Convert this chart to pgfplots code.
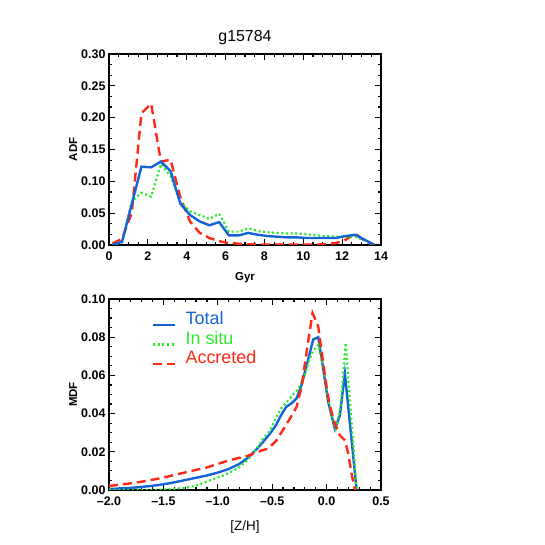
\documentclass[border=0pt]{standalone}
\usepackage{pgfplots}
\pgfplotsset{compat=1.18}
\usepackage{fontspec}
\setmainfont{Liberation Sans}
\definecolor{cblue}{RGB}{20,100,215}
\definecolor{cgreen}{RGB}{40,235,40}
\definecolor{cred}{RGB}{255,40,20}
\pgfplotsset{
  idl/.style={
    scale only axis, width=272bp, height=191bp, anchor=south west,
    axis line style={line width=1.8bp, black},
    tick style={line width=1.2bp, black},
    major tick length=6bp, minor tick length=3bp,
    tick align=inside,
    /pgf/number format/assume math mode=true,
    ticklabel style={font=\fontsize{12.5}{12.5}\selectfont\bfseries},
    label style={font=\fontsize{11.5}{11.5}\selectfont\bfseries},
  },
  tot/.style={cblue, line width=2.4bp},
  ins/.style={cgreen, line width=2.2bp, dash pattern=on 2bp off 2.6bp},
  acc/.style={cred, line width=2.4bp, dash pattern=on 9bp off 5bp},
}
\begin{document}
\begin{tikzpicture}
\path[use as bounding box] (0,0) rectangle (545bp,545bp);
\begin{axis}[idl, at={(109bp,300bp)},
  xmin=0, xmax=14, ymin=0, ymax=0.3,
  xtick={0,2,4,6,8,10,12,14}, minor x tick num=3,
  ytick={0,0.05,0.1,0.15,0.2,0.25,0.3}, minor y tick num=2,
  yticklabel style={/pgf/number format/.cd, fixed, fixed zerofill, precision=2},
  xticklabel style={yshift=-3bp},
  title={g15784},
  title style={font=\fontsize{16}{16}\selectfont, at={(0.5,1)}, anchor=base, yshift=7bp},
  xlabel={Gyr}, ylabel={ADF},
  xlabel style={at={(axis description cs:0.5,-0.173)}, anchor=center},
  ylabel style={at={(axis description cs:-0.132,0.5)}, anchor=center},
]
\addplot[acc] coordinates {
(0.17,0.002) (0.67,0.010) (1.17,0.050) (1.67,0.207) (2.17,0.222) (2.67,0.131)
(3.17,0.134) (3.67,0.075) (4.17,0.037) (4.67,0.019) (5.17,0.011) (5.67,0.006)
(6.17,0.003) (6.67,0.002) (7.17,0.001) (7.67,0.001) (8.17,0.0005) (8.67,0.0005)
(9.17,0.0005) (9.67,0.0005) (10.17,0.0005) (10.67,0.0008) (11.17,0.001) (11.67,0.003)
(12.17,0.008) (12.67,0.018) (13.17,0.006) (13.67,0.000)};
\addplot[ins] coordinates {
(0.17,0.000) (0.67,0.004) (1.17,0.068) (1.67,0.082) (2.17,0.076) (2.67,0.127)
(3.17,0.108) (3.67,0.068) (4.17,0.053) (4.67,0.047) (5.17,0.041) (5.67,0.049)
(6.17,0.021) (6.67,0.021) (7.17,0.026) (7.67,0.022) (8.17,0.020) (8.67,0.019)
(9.17,0.018) (9.67,0.018) (10.17,0.017) (10.67,0.015) (11.17,0.014) (11.67,0.013)
(12.17,0.012) (12.67,0.013) (13.17,0.007) (13.67,0.000)};
\addplot[tot] coordinates {
(0.17,0.000) (0.67,0.005) (1.17,0.064) (1.67,0.123) (2.17,0.122) (2.67,0.131)
(3.17,0.116) (3.67,0.065) (4.17,0.047) (4.67,0.037) (5.17,0.031) (5.67,0.036)
(6.17,0.015) (6.67,0.015) (7.17,0.019) (7.67,0.016) (8.17,0.014) (8.67,0.013)
(9.17,0.012) (9.67,0.012) (10.17,0.011) (10.67,0.011) (11.17,0.011) (11.67,0.011)
(12.17,0.014) (12.67,0.016) (13.17,0.008) (13.67,0.000)};
\end{axis}
\begin{axis}[idl, at={(109bp,55bp)},
  xmin=-2, xmax=0.5, ymin=0, ymax=0.1,
  xtick={-2,-1.5,-1,-0.5,0,0.5}, minor x tick num=4,
  xticklabels={\textendash2.0,\textendash1.5,\textendash1.0,\textendash0.5,0.0,0.5},
  ytick={0,0.02,0.04,0.06,0.08,0.1}, minor y tick num=3,
  yticklabel style={/pgf/number format/.cd, fixed, fixed zerofill, precision=2},
  xticklabel style={yshift=-3bp},
  xlabel={[Z/H]}, ylabel={MDF},
  xlabel style={at={(axis description cs:0.5,-0.194)}, anchor=center, font=\fontsize{13.5}{13.5}\selectfont},
  ylabel style={at={(axis description cs:-0.132,0.5)}, anchor=center},
  legend style={draw=none, fill=none, at={(axis description cs:0.157,0.934)}, anchor=north west,
    inner sep=0pt, font=\fontsize{18}{18}\selectfont,
    nodes={inner sep=0pt, text height=13bp, text depth=6.5bp},
    /tikz/every odd column/.append style={column sep=9bp}},
  legend cell align=left,
  legend image code/.code={\draw[#1] (0bp,-3.5bp) -- (22.3bp,-3.5bp);},
]
\addplot[tot] coordinates {
(-2.0,0.0005) (-1.9,0.0008) (-1.8,0.0011) (-1.7,0.0016) (-1.6,0.0022) (-1.5,0.003)
(-1.4,0.004) (-1.3,0.0052) (-1.2,0.0064) (-1.1,0.0076) (-1.0,0.0091) (-0.9,0.011)
(-0.8,0.0137) (-0.72,0.017) (-0.65,0.021) (-0.586,0.025) (-0.52,0.0295) (-0.464,0.034)
(-0.42,0.039) (-0.372,0.0435) (-0.32,0.0455) (-0.276,0.048) (-0.23,0.055) (-0.18,0.066)
(-0.123,0.0788) (-0.077,0.080) (-0.03,0.063) (0.015,0.046) (0.076,0.032) (0.122,0.039)
(0.168,0.061) (0.276,0.0)};
\addlegendentry{\textcolor{cblue}{Total}}
\addplot[ins] coordinates {
(-2.0,0.0) (-1.8,0.0) (-1.6,0.0) (-1.5,0.0002) (-1.4,0.0006) (-1.3,0.0012) (-1.2,0.0022)
(-1.1,0.0045) (-1.0,0.0065) (-0.9,0.0088) (-0.8,0.012) (-0.72,0.016) (-0.65,0.021)
(-0.586,0.0267) (-0.52,0.031) (-0.464,0.038) (-0.414,0.043) (-0.353,0.047) (-0.26,0.053)
(-0.2,0.060) (-0.16,0.068) (-0.123,0.073) (-0.077,0.076) (-0.03,0.064) (0.015,0.047)
(0.086,0.031) (0.13,0.045) (0.175,0.077) (0.276,0.0)};
\addlegendentry{\textcolor{cgreen}{In situ}}
\addplot[acc] coordinates {
(-2.0,0.0021) (-1.8,0.0035) (-1.64,0.0049) (-1.5,0.0065) (-1.24,0.010) (-1.1,0.0118)
(-0.905,0.0154) (-0.72,0.018) (-0.598,0.0207) (-0.537,0.0216) (-0.46,0.026) (-0.384,0.033)
(-0.32,0.039) (-0.276,0.0435) (-0.23,0.054) (-0.169,0.078) (-0.129,0.0926) (-0.077,0.0856)
(-0.035,0.068) (0.0,0.054) (0.026,0.045) (0.076,0.0347) (0.122,0.0286) (0.168,0.026)
(0.199,0.019) (0.23,0.0084) (0.26,0.0)};
\addlegendentry{\textcolor{cred}{Accreted}}
\end{axis}
\end{tikzpicture}
\end{document}
